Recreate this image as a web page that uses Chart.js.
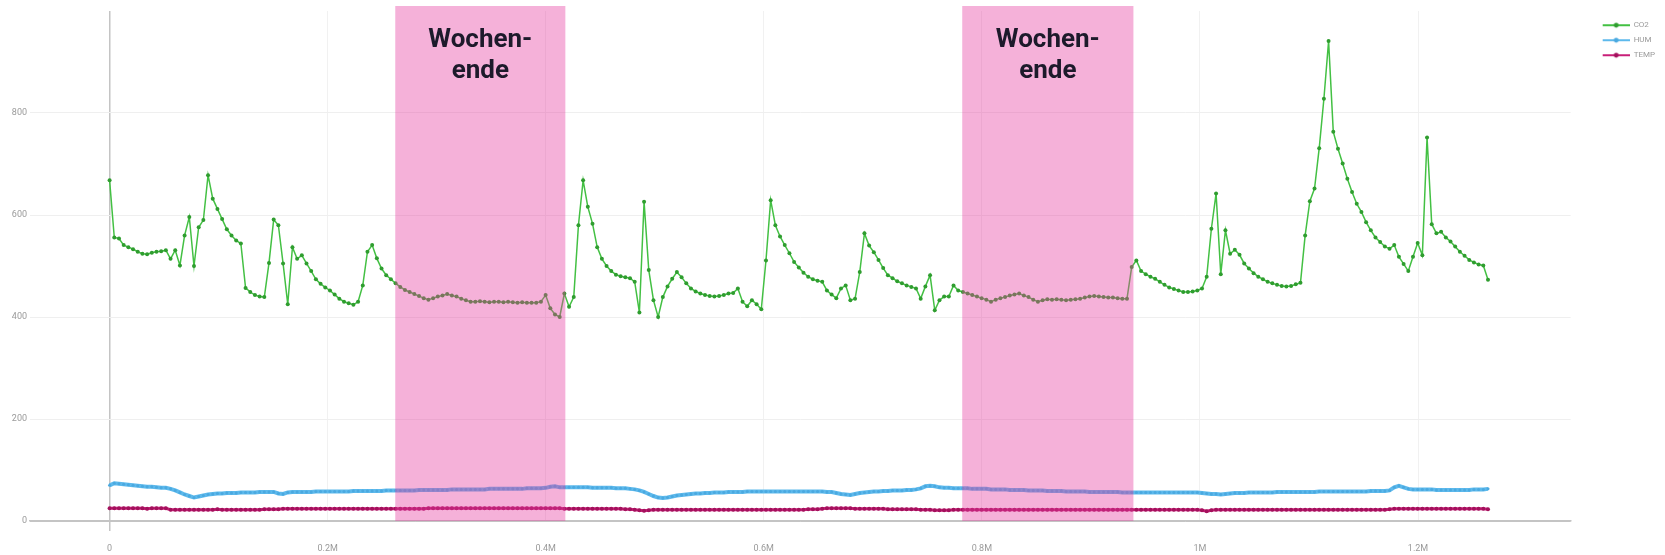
<!DOCTYPE html>
<html>
<head>
<meta charset="utf-8">
<script src="https://cdn.jsdelivr.net/npm/chart.js@4.4.1/dist/chart.umd.min.js"></script>
<style>
  html, body { margin: 0; padding: 0; background: #fff; }
  canvas { display: block; }
</style>
</head>
<body>
<canvas id="chart" width="1665" height="555"></canvas>
<script>
// --- Data ---
const STEP = 4300; // seconds between two samples

const co2 = [
  668,556,554,541,537,533,528,524,523,526,
  528,529,531,514,531,501,560,596,500,576,
  590,678,632,612,592,572,560,550,544,457,
  449,443,440,439,506,591,580,505,425,537,
  514,521,505,490,474,465,458,452,444,436,
  430,427,424,430,462,528,541,515,495,482,
  474,466,459,453,449,445,441,437,434,437,
  440,442,445,442,440,436,433,430,430,431,
  430,429,430,430,429,430,429,428,429,428,
  428,428,430,443,417,405,400,446,420,439,
  580,668,616,583,537,514,500,490,483,480,
  478,476,469,409,626,492,433,400,439,460,
  475,488,478,466,456,450,446,443,441,440,
  441,443,446,447,456,430,421,433,425,415,
  511,629,580,558,541,525,508,497,487,479,
  474,471,469,452,444,437,456,462,433,436,
  488,564,540,527,512,496,482,476,470,466,
  462,459,456,436,460,482,413,433,440,440,
  462,452,449,446,443,440,437,434,430,434,
  437,439,442,444,446,442,439,434,430,433,
  435,434,435,434,433,434,435,436,438,440,
  441,440,439,438,438,437,436,436,498,511,
  490,484,479,475,469,463,458,455,452,449,
  449,450,452,456,479,573,642,484,570,524,
  532,522,505,495,486,479,474,469,466,463,
  461,460,461,464,467,560,627,652,731,828,
  941,763,730,701,671,645,622,606,586,570,
  556,547,538,534,541,518,504,490,518,545,
  521,752,582,564,567,556,548,538,528,520,
  512,507,503,501,473
];

const hum = [
  70,74,73,72,71,70,69,68,67,67,
  66,65,65,63,60,56,52,49,46,48,
  50,52,53,54,54,55,55,55,56,56,
  56,56,57,57,57,57,54,53,56,57,
  57,57,57,57,58,58,58,58,58,58,
  58,58,59,59,59,59,59,59,59,60,
  60,60,60,60,60,60,61,61,61,61,
  61,61,61,62,62,62,62,62,62,62,
  62,63,63,63,63,63,63,63,63,64,
  64,64,64,65,67,68,66,66,66,66,
  66,66,66,65,65,65,65,65,64,64,
  64,63,62,60,57,53,49,46,45,46,
  48,50,51,52,53,54,54,55,55,56,
  56,56,57,57,57,57,58,58,58,58,
  58,58,58,58,58,58,58,58,58,58,
  58,58,58,57,57,55,53,52,51,53,
  55,56,57,58,58,59,59,60,60,60,
  61,61,62,64,68,69,68,66,65,65,
  64,64,64,64,63,63,63,63,62,62,
  62,62,61,61,61,61,60,60,60,60,
  59,59,59,59,58,58,58,58,58,57,
  57,57,57,57,57,57,56,56,56,56,
  56,56,56,56,56,56,56,56,56,56,
  56,56,56,55,54,53,53,52,53,54,
  55,55,55,56,56,56,56,56,56,57,
  57,57,57,57,57,57,57,57,58,58,
  58,58,58,58,58,58,58,58,58,59,
  59,59,59,60,66,69,66,63,62,62,
  62,62,62,61,61,61,61,61,61,61,
  61,62,62,62,63
];

const temp = [
  25,25,25,25,25,25,25,25,24,25,
  25,25,25,22,22,22,22,22,22,22,
  22,22,22,23,22,22,22,22,22,22,
  22,22,22,23,23,23,23,24,24,24,
  24,24,24,24,24,24,24,24,24,24,
  24,24,24,24,24,24,24,24,24,24,
  24,24,24,24,24,24,24,24,25,25,
  25,25,25,25,25,25,25,25,25,25,
  25,25,25,25,25,25,25,25,25,25,
  25,25,25,25,25,25,25,24,24,24,
  24,24,24,24,24,24,24,24,24,24,
  23,23,22,21,20,21,22,22,22,22,
  22,22,22,22,22,22,22,22,22,22,
  22,22,22,22,22,22,22,22,22,22,
  22,22,22,22,22,22,22,22,22,23,
  23,23,24,25,25,25,25,25,25,24,
  24,24,24,24,24,24,23,23,23,23,
  23,23,23,22,22,22,21,21,21,21,
  22,22,22,22,22,22,22,22,22,22,
  22,22,22,22,22,22,22,22,22,22,
  22,22,22,22,22,22,22,22,22,22,
  22,22,22,22,22,22,22,22,22,22,
  22,22,22,22,22,22,22,22,22,22,
  22,22,22,21,19,21,22,22,22,22,
  22,22,22,22,22,22,22,22,22,22,
  22,22,22,22,22,22,22,22,22,22,
  22,22,22,22,22,22,22,22,22,22,
  22,22,22,23,24,24,24,24,24,24,
  24,24,24,24,24,24,24,24,24,24,
  24,24,24,24,23
];

const seriesNames = ["CO2", "HUM", "TEMP"];
const lineColors = ["#43c043", "#5db9ec", "#c81f78"];
const dotColors = ["#2f9d2f", "#4aa9e0", "#a3115c"];

// weekend bands, in seconds on the x axis
const weekendStart = [262000, 782000];
const weekendEnd = [418000, 939000];
const weekendText = ["Wochen-", "ende"];

const xTicks = [0, 200000, 400000, 600000, 800000, 1000000, 1200000];
const xTickLabels = ["0", "0.2M", "0.4M", "0.6M", "0.8M", "1M", "1.2M"];
const yTicks = [0, 200, 400, 600, 800];

// --- Helpers ---
const toPoints = arr => arr.map((v, i) => ({ x: i * STEP, y: v }));

function legendMark(line, dot) {
  const c = document.createElement("canvas");
  c.width = 52;
  c.height = 8;
  const g = c.getContext("2d");
  g.strokeStyle = line;
  g.lineWidth = 2;
  g.beginPath();
  g.moveTo(25, 4);
  g.lineTo(52, 4);
  g.stroke();
  g.fillStyle = dot;
  g.beginPath();
  g.arc(38.5, 4, 2.4, 0, Math.PI * 2);
  g.fill();
  return c;
}
const legendMarks = lineColors.map((c, i) => legendMark(c, dotColors[i]));

// --- Weekend bands (drawn over the lines) ---
const weekendBands = {
  id: "weekendBands",
  afterDatasetsDraw(chart) {
    const { ctx, chartArea, scales } = chart;
    const x = scales.x;
    ctx.save();
    weekendStart.forEach((start, k) => {
      const left = x.getPixelForValue(start);
      const right = x.getPixelForValue(weekendEnd[k]);
      ctx.fillStyle = "rgba(230, 60, 160, 0.4)";
      ctx.fillRect(left, chartArea.top - 5, right - left, chartArea.bottom - chartArea.top + 5);
      ctx.fillStyle = "#1d1a2b";
      ctx.font = "bold 26px Roboto";
      ctx.textAlign = "center";
      ctx.textBaseline = "alphabetic";
      const cx = (left + right) / 2;
      ctx.fillText(weekendText[0], cx, chartArea.top + 36);
      ctx.fillText(weekendText[1], cx, chartArea.top + 67);
    });
    ctx.restore();
  }
};

// --- Chart ---
const series = [co2, hum, temp];
const widths = [1.5, 4, 3];
const radii = [2, 1.5, 2];
const isZero = c => c.tick && c.tick.value === 0;

new Chart(document.getElementById("chart"), {
  type: "line",
  data: {
    datasets: series.map((arr, i) => ({
      label: seriesNames[i],
      data: toPoints(arr),
      borderColor: lineColors[i],
      backgroundColor: dotColors[i],
      pointBackgroundColor: dotColors[i],
      pointBorderColor: dotColors[i],
      pointBorderWidth: 0,
      pointRadius: radii[i],
      borderWidth: widths[i],
      tension: 0,
      fill: false
    }))
  },
  options: {
    responsive: false,
    animation: false,
    layout: { padding: { top: 11, left: 0, right: 0, bottom: 0 } },
    plugins: {
      tooltip: { enabled: false },
      legend: {
        position: "right",
        align: "start",
        title: { display: true, text: " ", font: { size: 1 }, padding: { top: 2, bottom: 0 } },
        labels: {
          usePointStyle: true,
          pointStyleWidth: 52,
          boxHeight: 8,
          padding: 7,
          color: "#9a9a9a",
          font: { family: "Roboto", size: 8 },
          generateLabels: chart => chart.data.datasets.map((ds, i) => ({
            text: ds.label,
            pointStyle: legendMarks[i],
            fillStyle: dotColors[i],
            strokeStyle: lineColors[i],
            lineWidth: 0,
            fontColor: "#9a9a9a",
            hidden: false,
            datasetIndex: i
          }))
        }
      }
    },
    scales: {
      x: {
        type: "linear",
        min: -73000,
        max: 1340000,
        afterFit: s => { s.height = 34; },
        afterBuildTicks: s => { s.ticks = xTicks.map(v => ({ value: v })); },
        ticks: {
          padding: 12,
          color: "#9a9a9a",
          font: { family: "Roboto", size: 9 },
          maxRotation: 0,
          autoSkip: false,
          callback: (v, i) => xTickLabels[xTicks.indexOf(v)]
        },
        grid: {
          color: c => (isZero(c) ? "#c4c4c4" : "#f1f1f1"),
          lineWidth: c => (isZero(c) ? 1.5 : 1),
          tickColor: c => (isZero(c) ? "#c4c4c4" : "rgba(0,0,0,0)"),
          tickLength: 10
        },
        border: { display: true, color: "#c4c4c4", width: 1.5 }
      },
      y: {
        min: 0,
        max: 1000,
        afterFit: s => { s.width = 30; },
        afterBuildTicks: s => { s.ticks = yTicks.map(v => ({ value: v })); },
        ticks: {
          padding: 3,
          color: "#9a9a9a",
          font: { family: "Roboto", size: 9 },
          callback: v => String(v)
        },
        grid: {
          drawTicks: false,
          color: c => (isZero(c) ? "#c4c4c4" : "#efefef")
        },
        border: { display: false }
      }
    }
  },
  plugins: [weekendBands]
});
</script>
</body>
</html>
